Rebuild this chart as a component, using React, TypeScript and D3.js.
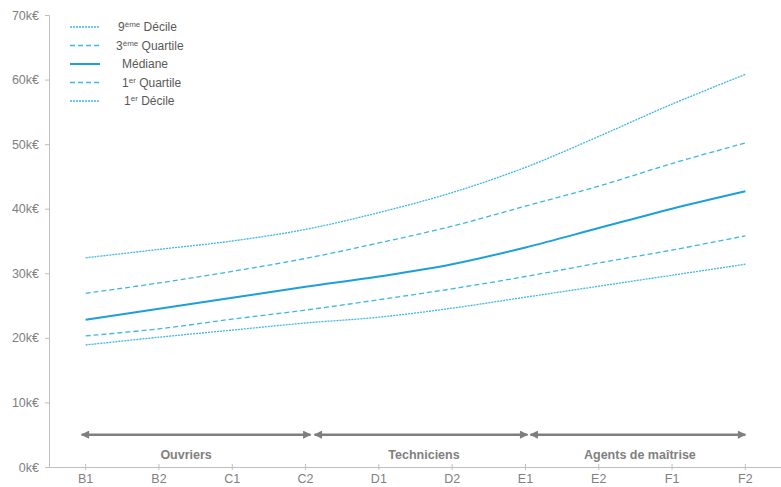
import * as d3 from 'd3'
import React, { useEffect, useRef } from 'react'

const grades = ['B1', 'B2', 'C1', 'C2', 'D1', 'D2', 'E1', 'E2', 'F1', 'F2']
const yTicks = [0, 10, 20, 30, 40, 50, 60, 70]

const decile9 = [32.4, 33.7, 35.0, 36.8, 39.4, 42.5, 46.4, 51.2, 56.2, 60.8]
const quartile3 = [26.9, 28.5, 30.3, 32.3, 34.7, 37.3, 40.4, 43.5, 47.0, 50.2]
const mediane = [22.8, 24.5, 26.2, 27.9, 29.5, 31.4, 34.0, 37.0, 40.0, 42.7]
const quartile1 = [20.3, 21.4, 22.9, 24.3, 25.9, 27.6, 29.5, 31.6, 33.6, 35.8]
const decile1 = [18.9, 20.1, 21.2, 22.3, 23.2, 24.6, 26.3, 28.0, 29.7, 31.4]

const groups = [
  { label: 'Ouvriers', from: 'B1', to: 'C2' },
  { label: 'Techniciens', from: 'C2', to: 'E1' },
  { label: 'Agents de maîtrise', from: 'E1', to: 'F2' }
]
const groupLevel = 5

const series = [
  { name: '9', sup: 'ème', rest: ' Décile', values: decile9, dash: '2,1', width: 1.3, color: '#3db6e8', tx: 118 },
  { name: '3', sup: 'ème', rest: ' Quartile', values: quartile3, dash: '5,3', width: 1.3, color: '#3db6e8', tx: 116 },
  { name: 'Médiane', sup: '', rest: '', values: mediane, dash: null, width: 2, color: '#1c9fdc', tx: 122 },
  { name: '1', sup: 'er', rest: ' Quartile', values: quartile1, dash: '5,3', width: 1.3, color: '#3db6e8', tx: 122 },
  { name: '1', sup: 'er', rest: ' Décile', values: decile1, dash: '2,1', width: 1.3, color: '#3db6e8', tx: 124 }
]

// arrow ends and label nudges, px
const arrowOffsets = [[-4, 5], [9, 2], [5, 0]]
const labelNudge = [-10, 3, 2]

export default function App() {
  const ref = useRef<SVGSVGElement>(null)

  useEffect(() => {
    const svg = d3.select(ref.current)
    svg.selectAll('*').remove()
    const left = 49
    const right = 782
    const x = d3.scaleBand().domain(grades).range([left, right])
    const cx = (g: string) => (x(g) as number) + x.bandwidth() / 2
    const y = d3.scaleLinear().domain([0, 70]).range([467, 15])
    const font = '"Liberation Sans", Arial, sans-serif'

    // y axis
    const ya = svg.append('g').attr('transform', `translate(${left},0)`)
      .call(d3.axisLeft(y).tickValues(yTicks).tickSize(4).tickPadding(6).tickFormat(d => `${d}k€`))
    ya.select('.domain').attr('stroke', '#bfbfbf')
    ya.selectAll('line').attr('stroke', '#bfbfbf')
    ya.selectAll('text').attr('fill', '#7f7f7f').style('font-size', '12.5px').style('font-family', font)

    // x axis
    const xa = svg.append('g').attr('transform', `translate(0,${y(0)})`)
      .call(d3.axisBottom(x).tickSize(3).tickSizeOuter(0).tickPadding(4))
    xa.select('.domain').attr('stroke', '#bfbfbf')
    xa.selectAll('.tick line').attr('stroke', '#bfbfbf').attr('y1', -3)
    xa.selectAll('text').attr('fill', '#7f7f7f').style('font-size', '12.5px').style('font-family', font)

    // arrow marker
    const defs = svg.append('defs')
    defs.append('marker').attr('id', 'ah').attr('viewBox', '0 0 10 10')
      .attr('refX', 9).attr('refY', 5).attr('markerWidth', 4.2).attr('markerHeight', 3.2)
      .attr('orient', 'auto-start-reverse').attr('markerUnits', 'strokeWidth')
      .append('path').attr('d', 'M0,0L10,5L0,10z').attr('fill', '#7f7f7f')

    groups.forEach((g, i) => {
      const x0 = cx(g.from) + arrowOffsets[i][0]
      const x1 = cx(g.to) + arrowOffsets[i][1]
      svg.append('line').attr('x1', x0).attr('x2', x1)
        .attr('y1', y(groupLevel)).attr('y2', y(groupLevel))
        .attr('stroke', '#7f7f7f').attr('stroke-width', 2.6)
        .attr('marker-start', 'url(#ah)').attr('marker-end', 'url(#ah)')
      svg.append('text').attr('x', (x0 + x1) / 2 + labelNudge[i]).attr('y', y(groupLevel) + 24)
        .attr('text-anchor', 'middle').attr('fill', '#7f7f7f')
        .style('font-size', '12.5px').style('font-weight', 'bold').style('font-family', font)
        .text(g.label)
    })

    const line = d3.line<number>()
      .x((_, i) => cx(grades[i]))
      .y(d => y(d))
      .curve(d3.curveCatmullRom.alpha(0.5))

    series.forEach((s, i) => {
      svg.append('path').attr('d', line(s.values)).attr('fill', 'none')
        .attr('stroke', s.color).attr('stroke-width', s.width)
        .attr('stroke-dasharray', s.dash)

      const ly = 27 + i * 18.5
      svg.append('line').attr('x1', 70).attr('x2', 100).attr('y1', ly).attr('y2', ly)
        .attr('stroke', s.color).attr('stroke-width', s.width).attr('stroke-dasharray', s.dash)
      const t = svg.append('text').attr('x', s.tx).attr('y', ly + 4)
        .attr('fill', '#595959').style('font-size', '12px').style('font-family', font)
      t.append('tspan').text(s.name)
      if (s.sup) {
        t.append('tspan').attr('dy', -4).style('font-size', '8px').text(s.sup)
        t.append('tspan').attr('dy', 4).text(s.rest)
      }
    })
  }, [])

  return (
    <svg ref={ref} width={781} height={487}
      style={{ position: 'absolute', left: 0, top: 0, background: '#fff' }} />
  )
}
